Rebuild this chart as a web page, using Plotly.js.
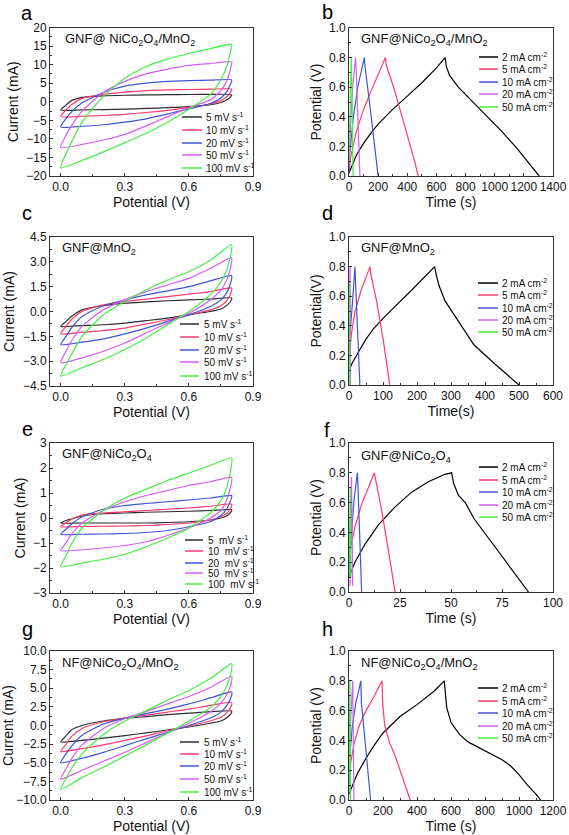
<!DOCTYPE html>
<html><head><meta charset="utf-8">
<script src="https://cdn.plot.ly/plotly-3.0.1.min.js"></script>
<style>html,body{margin:0;padding:0;background:#fff}</style>
</head><body><div id="chart" style="width:569px;height:835px"></div>
<script>
// ---------------- DATA ----------------
const cvPotential = [0,0.025,0.05,0.1,0.2,0.3,0.4,0.5,0.6,0.7,0.8, 0.8,0.78,0.75,0.7,0.6,0.5,0.4,0.3,0.2,0.1,0];
const cvRateLabels = ['5 mV s<sup>-1</sup>','10 mV s<sup>-1</sup>','20 mV s<sup>-1</sup>','50 mV s<sup>-1</sup>','100 mV s<sup>-1</sup>'];
const cvRateLabelsE = ['5 \u00a0mV s<sup>-1</sup>','10 \u00a0mV s<sup>-1</sup>','20 \u00a0mV s<sup>-1</sup>','50 \u00a0mV s<sup>-1</sup>','100 \u00a0mV s<sup>-1</sup>'];
const gcdLabels = ['2 mA cm<sup>-2</sup>','5 mA cm<sup>-2</sup>','10 mA cm<sup>-2</sup>','20 mA cm<sup>-2</sup>','50 mA cm<sup>-2</sup>'];

// (a) GNF@NiCo2O4/MnO2 CV, current (mA)
const cvA_5   = [-2.2,-0.9,0.3,1.2,1.6,1.75,1.85,1.9,1.95,2.0,1.9, 1.7,0.6,-0.2,-0.8,-1.3,-1.6,-1.8,-2.0,-2.1,-2.2,-2.2];
const cvA_10  = [-4.0,-2.2,-0.8,0.9,2.0,2.6,3.0,3.2,3.3,3.4,3.4, 3.1,1.5,0.3,-0.6,-1.5,-2.3,-2.9,-3.4,-3.7,-3.9,-4.0];
const cvA_20  = [-6.8,-4.5,-2.8,-0.3,2.5,4.2,5.0,5.5,5.7,5.8,5.9, 5.5,3.0,1.0,-0.5,-1.9,-3.3,-4.6,-5.5,-6.2,-6.6,-6.8];
const cvA_50  = [-12.3,-9.0,-6.5,-2.5,2.5,5.5,7.5,8.8,9.8,10.3,10.7, 10.2,6.0,3.0,0.5,-1.6,-4.0,-6.5,-8.8,-10.3,-11.5,-12.3];
const cvA_100 = [-17.8,-14.0,-11.0,-5.5,1.5,6.3,9.5,11.5,13.0,14.3,15.5, 15.0,10.0,6.0,2.0,-2.0,-5.5,-8.5,-11.0,-13.5,-15.8,-17.8];

// (c) GNF@MnO2 CV
const cvC_5   = [-0.9,-0.6,-0.3,0.1,0.35,0.5,0.58,0.65,0.7,0.75,0.82, 0.72,0.4,0.15,0,-0.2,-0.4,-0.55,-0.7,-0.8,-0.85,-0.9];
const cvC_10  = [-1.35,-0.9,-0.5,0,0.4,0.6,0.75,0.9,1.05,1.2,1.42, 1.25,0.7,0.35,0.1,-0.2,-0.5,-0.75,-1.0,-1.15,-1.25,-1.35];
const cvC_20  = [-2.0,-1.5,-1.0,-0.3,0.35,0.7,1.0,1.25,1.5,1.85,2.17, 1.95,1.2,0.7,0.3,-0.2,-0.6,-1.0,-1.35,-1.65,-1.85,-2.0];
const cvC_50  = [-3.1,-2.4,-1.8,-0.9,0.1,0.7,1.2,1.6,2.0,2.6,3.25, 2.95,2.0,1.3,0.7,-0.1,-0.7,-1.3,-1.9,-2.4,-2.8,-3.1];
const cvC_100 = [-3.9,-3.2,-2.6,-1.5,-0.2,0.6,1.3,1.9,2.4,3.1,4.05, 3.7,2.6,1.8,1.0,0,-0.8,-1.6,-2.3,-2.9,-3.4,-3.9];

// (e) GNF@NiCo2O4 CV
const cvE_5   = [-0.2,-0.1,-0.04,0.08,0.17,0.2,0.23,0.25,0.27,0.3,0.33, 0.28,0.1,0,-0.08,-0.15,-0.18,-0.2,-0.2,-0.2,-0.2,-0.2];
const cvE_10  = [-0.35,-0.2,-0.05,0.12,0.2,0.25,0.3,0.35,0.4,0.47,0.55, 0.48,0.2,0.05,-0.08,-0.2,-0.26,-0.3,-0.32,-0.33,-0.34,-0.35];
const cvE_20  = [-0.65,-0.45,-0.25,0.05,0.35,0.5,0.58,0.65,0.72,0.8,0.9, 0.82,0.4,0.1,-0.15,-0.35,-0.5,-0.58,-0.62,-0.64,-0.65,-0.65];
const cvE_50  = [-1.3,-1.0,-0.65,-0.2,0.3,0.65,0.9,1.1,1.3,1.45,1.63, 1.45,0.8,0.3,0,-0.4,-0.7,-0.95,-1.1,-1.2,-1.27,-1.3];
const cvE_100 = [-1.95,-1.5,-1.05,-0.4,0.3,0.8,1.15,1.5,1.8,2.1,2.4, 2.15,1.3,0.7,0.2,-0.4,-0.8,-1.15,-1.45,-1.65,-1.8,-1.95];

// (g) NF@NiCo2O4/MnO2 CV
const cvG_5   = [-2.2,-1.4,-0.6,0,0.6,0.95,1.2,1.45,1.65,1.85,1.95, 1.75,1.1,0.6,0.3,-0.2,-0.6,-1.0,-1.35,-1.7,-2.0,-2.2];
const cvG_10  = [-3.5,-2.5,-1.5,-0.4,0.5,1.0,1.4,1.8,2.2,2.7,3.1, 2.75,1.8,1.1,0.6,-0.1,-0.7,-1.4,-2.0,-2.6,-3.1,-3.5];
const cvG_20  = [-5.0,-3.8,-2.8,-1.3,0.2,1.0,1.6,2.2,2.9,3.7,4.5, 4.0,2.8,1.8,1.0,0,-0.9,-1.8,-2.7,-3.6,-4.4,-5.0];
const cvG_50  = [-7.2,-5.8,-4.5,-2.6,-0.4,0.9,1.9,2.9,3.9,5.1,6.6, 5.9,4.3,3.0,1.8,0.3,-1.0,-2.3,-3.6,-4.8,-6.0,-7.2];
const cvG_100 = [-8.6,-7.1,-5.8,-3.8,-1.2,0.6,2.0,3.4,4.7,6.3,8.3, 7.5,5.5,3.9,2.4,0.6,-1.0,-2.6,-4.1,-5.6,-7.0,-8.6];

// (b) GNF@NiCo2O4/MnO2 GCD: time (s), potential (V)
const gcdB_2_t  = [0,20,50,100,150,200,250,300,400,500,600,660, 668,690,750,850,950,1050,1150,1250,1305];
const gcdB_2_v  = [0.02,0.07,0.14,0.22,0.29,0.35,0.40,0.45,0.54,0.63,0.73,0.8, 0.74,0.68,0.6,0.5,0.4,0.3,0.19,0.07,0];
const gcdB_5_t  = [0,10,50,100,150,200,250, 255,300,350,400,450,475];
const gcdB_5_v  = [0.03,0.12,0.3,0.45,0.57,0.69,0.8, 0.75,0.62,0.45,0.28,0.1,0];
const gcdB_10_t = [0,5,30,60,105, 110,150,200];
const gcdB_10_v = [0.03,0.15,0.4,0.6,0.8, 0.74,0.42,0];
const gcdB_20_t = [0,10,25,45, 50,75];
const gcdB_20_v = [0.05,0.35,0.6,0.8, 0.7,0];
const gcdB_50_t = [0,8,15, 20,28];
const gcdB_50_v = [0.1,0.5,0.8, 0.6,0];

// (d) GNF@MnO2 GCD
const gcdD_2_t  = [0,10,27,50,72,100,135,184,252, 256,265,282,322,368,430,500];
const gcdD_2_v  = [0.1,0.15,0.22,0.31,0.38,0.45,0.53,0.64,0.8, 0.75,0.67,0.57,0.43,0.27,0.14,0];
const gcdD_5_t  = [0,3,8,18,37,62, 64,81,101,120];
const gcdD_5_v  = [0.02,0.25,0.36,0.5,0.65,0.8, 0.75,0.57,0.3,0];
const gcdD_10_t = [0,3,10,17.6, 20,32];
const gcdD_10_v = [0.11,0.35,0.55,0.8, 0.65,0];
const gcdD_20_t = [1,2,3, 3.5,4];
const gcdD_20_v = [0.02,0.5,0.8, 0.5,0];
const gcdD_50_t = [0,0.5,1, 1.5,2];
const gcdD_50_v = [0.05,0.5,0.7, 0.4,0];

// (f) GNF@NiCo2O4 GCD
const gcdF_2_t  = [0,2.9,7.8,14.4,22.5,30.7,38.9,44,47,50.3, 51.3,53.6,57,61.4,75,88];
const gcdF_2_v  = [0.1,0.2,0.32,0.45,0.57,0.67,0.74,0.77,0.79,0.8, 0.73,0.65,0.6,0.49,0.24,0];
const gcdF_5_t  = [0,0.5,3,6.2,9.5,12.4, 12.7,16,19.3,22.6];
const gcdF_5_v  = [0.1,0.28,0.44,0.59,0.7,0.8, 0.78,0.55,0.28,0];
const gcdF_10_t = [0,1,2.5,4.1, 4.3,6.2];
const gcdF_10_v = [0.1,0.35,0.62,0.8, 0.75,0];
const gcdF_20_t = [0.5,0.8,1.2, 1.5,1.8];
const gcdF_20_v = [0.04,0.5,0.77, 0.5,0.04];
const gcdF_50_t = [0,0.3,0.6, 0.8,1];
const gcdF_50_v = [0.1,0.5,0.7, 0.4,0.1];

// (h) NF@NiCo2O4/MnO2 GCD
const gcdH_2_t  = [0,20,50,100,150,200,300,400,500,560, 565,575,600,650,700,800,900,950,1000,1050,1100,1127];
const gcdH_2_v  = [0.04,0.1,0.18,0.28,0.37,0.45,0.56,0.64,0.73,0.8, 0.72,0.62,0.52,0.44,0.39,0.33,0.27,0.23,0.17,0.1,0.04,0];
const gcdH_5_t  = [0,10,30,60,100,150,194, 198,210,240,270,300,330,360];
const gcdH_5_v  = [0.05,0.25,0.38,0.5,0.6,0.7,0.8, 0.65,0.5,0.38,0.3,0.2,0.1,0];
const gcdH_10_t = [0,5,20,40,70, 73,90,110,127];
const gcdH_10_v = [0.05,0.3,0.5,0.65,0.8, 0.65,0.45,0.2,0];
const gcdH_20_t = [0,8,22, 24,29];
const gcdH_20_v = [0.05,0.5,0.8, 0.6,0];
const gcdH_50_t = [0,3,5, 7,9];
const gcdH_50_v = [0.05,0.6,0.8, 0.4,0];

// ---------------- STYLE / LAYOUT ----------------
const W = 569, H = 835;
const colors = ['#2e2e2e','#ff3a6e','#4154d6','#d65cf2','#44ee44'];
const gcdColors = ['#000000','#ff3a6e','#4154d6','#d65cf2','#44ee44'];
const FONT = 'Liberation Sans, Arial, sans-serif';
const px = x => x / W;
const py = y => 1 - y / H;

const panels = [
  {n:1, letter:'a', box:[50,253,27.5,176], xr:[-0.05,0.9], xd:0.3, yr:[-20,20], yd:5, yfmt:'d', xt:'Potential (V)', yt:'Current (mA)',
   name:'GNF@ NiCo<sub>2</sub>O<sub>4</sub>/MnO<sub>2</sub>', nameXY:[63,39], letterXY:[27,13],
   series:[cvA_5,cvA_10,cvA_20,cvA_50,cvA_100], labels:cvRateLabels, leg:{x0:182,x1:202,tx:204,ys:[117,130,143,155,168]}},
  {n:2, letter:'b', box:[349,553,28,176], xr:[0,1400], xd:200, yr:[0,1], yd:0.2, yfmt:'.1f', xt:'Time (s)', yt:'Potential (V)',
   name:'GNF@NiCo<sub>2</sub>O<sub>4</sub>/MnO<sub>2</sub>', nameXY:[359,39], letterXY:[327,12],
   t:[gcdB_2_t,gcdB_5_t,gcdB_10_t,gcdB_20_t,gcdB_50_t], v:[gcdB_2_v,gcdB_5_v,gcdB_10_v,gcdB_20_v,gcdB_50_v], labels:gcdLabels, leg:{x0:479,x1:498,tx:500,ys:[57,69,82,94,107]}},
  {n:3, letter:'c', box:[50,253,237,386], xr:[-0.05,0.9], xd:0.3, yr:[-4.5,4.5], yd:1.5, yfmt:'.1f', xt:'Potential (V)', yt:'Current (mA)',
   name:'GNF@MnO<sub>2</sub>', nameXY:[60,248], letterXY:[27,213],
   series:[cvC_5,cvC_10,cvC_20,cvC_50,cvC_100], labels:cvRateLabels, leg:{x0:180,x1:199,tx:202,ys:[324,337,350,362,376]}},
  {n:4, letter:'d', box:[349,553,237,385], xr:[0,600], xd:100, yr:[0,1], yd:0.2, yfmt:'.1f', xt:'Time(s)', yt:'Potential(V)',
   name:'GNF@MnO<sub>2</sub>', nameXY:[359,248], letterXY:[327,213],
   t:[gcdD_2_t,gcdD_5_t,gcdD_10_t,gcdD_20_t,gcdD_50_t], v:[gcdD_2_v,gcdD_5_v,gcdD_10_v,gcdD_20_v,gcdD_50_v], labels:gcdLabels, leg:{x0:478,x1:498,tx:500,ys:[283,295,308,320,332]}},
  {n:5, letter:'e', box:[50,253,443,593], xr:[-0.05,0.9], xd:0.3, yr:[-3,3], yd:1, yfmt:'d', xt:'Potential (V)', yt:'Current (mA)',
   name:'GNF@NiCo<sub>2</sub>O<sub>4</sub>', nameXY:[60,455], letterXY:[27,429],
   series:[cvE_5,cvE_10,cvE_20,cvE_50,cvE_100], labels:cvRateLabelsE, leg:{x0:185,x1:203,tx:206,ys:[540,551,563,573,584]}},
  {n:6, letter:'f', box:[349,553,443,592], xr:[0,100], xd:25, yr:[0,1], yd:0.2, yfmt:'.1f', xt:'Time (s)', yt:'Potential (V)',
   name:'GNF@NiCo<sub>2</sub>O<sub>4</sub>', nameXY:[359,456], letterXY:[327,430],
   t:[gcdF_2_t,gcdF_5_t,gcdF_10_t,gcdF_20_t,gcdF_50_t], v:[gcdF_2_v,gcdF_5_v,gcdF_10_v,gcdF_20_v,gcdF_50_v], labels:gcdLabels, leg:{x0:479,x1:498,tx:500,ys:[467,480,492,505,517]}},
  {n:7, letter:'g', box:[50,253,651,800], xr:[-0.05,0.9], xd:0.3, yr:[-10,10], yd:2.5, yfmt:'.1f', xt:'Potential (V)', yt:'Current (mA)',
   name:'NF@NiCo<sub>2</sub>O<sub>4</sub>/MnO<sub>2</sub>', nameXY:[60,663], letterXY:[27,629],
   series:[cvG_5,cvG_10,cvG_20,cvG_50,cvG_100], labels:cvRateLabels, leg:{x0:180,x1:199,tx:202,ys:[742,754,766,779,792]}},
  {n:8, letter:'h', box:[349,553,651,800], xr:[0,1200], xd:200, yr:[0,1], yd:0.2, yfmt:'.1f', xt:'Time (s)', yt:'Potential (V)',
   name:'NF@NiCo<sub>2</sub>O<sub>4</sub>/MnO<sub>2</sub>', nameXY:[359,663], letterXY:[327,629],
   t:[gcdH_2_t,gcdH_5_t,gcdH_10_t,gcdH_20_t,gcdH_50_t], v:[gcdH_2_v,gcdH_5_v,gcdH_10_v,gcdH_20_v,gcdH_50_v], labels:gcdLabels, leg:{x0:478,x1:498,tx:500,ys:[688,701,713,726,738]}}
];

const traces = [];
const layout = {
  width: W, height: H, margin: {l:0,r:0,t:0,b:0},
  paper_bgcolor: '#fff', plot_bgcolor: '#fff', showlegend: false,
  font: {family: FONT, color: '#111'},
  annotations: [], shapes: []
};

panels.forEach(p => {
  const xs = p.n === 1 ? '' : String(p.n);
  const xa = 'x' + xs, ya = 'y' + xs;
  const isCV = !!p.series;
  const cols = isCV ? colors : gcdColors;
  for (let i = 0; i < 5; i++) {
    traces.push({
      type: 'scatter', mode: 'lines', xaxis: xa, yaxis: ya,
      x: isCV ? cvPotential : p.t[i], y: isCV ? p.series[i] : p.v[i],
      name: p.labels[i],
      line: {color: cols[i], width: 1.2, shape: isCV ? 'spline' : 'linear', smoothing: 0.6},
      hoverinfo: 'skip'
    });
    const ly = p.leg.ys[i];
    layout.shapes.push({type:'line', xref:'paper', yref:'paper', x0:px(p.leg.x0), x1:px(p.leg.x1), y0:py(ly), y1:py(ly),
      line:{color: cols[i], width: 1.5}});
    layout.annotations.push({xref:'paper', yref:'paper', x:px(p.leg.tx), y:py(ly), xanchor:'left', yanchor:'middle',
      text: p.labels[i], showarrow:false, font:{size:10, family:FONT, color:'#111'}});
  }
  const common = {showline:true, mirror:true, linecolor:'#333', linewidth:1, ticks:'inside', ticklen:3, tickwidth:1, tickcolor:'#333',
    showgrid:false, zeroline:false, tickfont:{size:12, family:FONT, color:'#111'}, fixedrange:true};
  layout['xaxis' + xs] = Object.assign({}, common, {
    domain:[px(p.box[0]), px(p.box[1])], range:p.xr, dtick:p.xd, tick0:0, anchor:ya,
    tickformat: isCV ? '.1f' : 'd',
    minor:{ticks:'inside', ticklen:2, tickcolor:'#333', dtick:p.xd/2},
    title:{text:p.xt, font:{size:14, family:FONT, color:'#111'}, standoff:2}
  });
  layout['yaxis' + xs] = Object.assign({}, common, {
    domain:[py(p.box[3]), py(p.box[2])], range:p.yr, dtick:p.yd, tick0:0, anchor:xa,
    tickformat: p.yfmt,
    minor:{ticks:'inside', ticklen:2, tickcolor:'#333', dtick:p.yd/2},
    title:{text:p.yt, font:{size:14, family:FONT, color:'#111'}, standoff:4}
  });
  layout.annotations.push({xref:'paper', yref:'paper', x:px(p.nameXY[0]), y:py(p.nameXY[1]), xanchor:'left', yanchor:'middle',
    text:p.name, showarrow:false, font:{size:13, family:FONT, color:'#111'}});
  layout.annotations.push({xref:'paper', yref:'paper', x:px(p.letterXY[0]), y:py(p.letterXY[1]), xanchor:'center', yanchor:'middle',
    text:p.letter, showarrow:false, font:{size:20, family:FONT, color:'#000'}});
});

Plotly.newPlot('chart', traces, layout, {staticPlot:true, displayModeBar:false});
</script></body></html>
